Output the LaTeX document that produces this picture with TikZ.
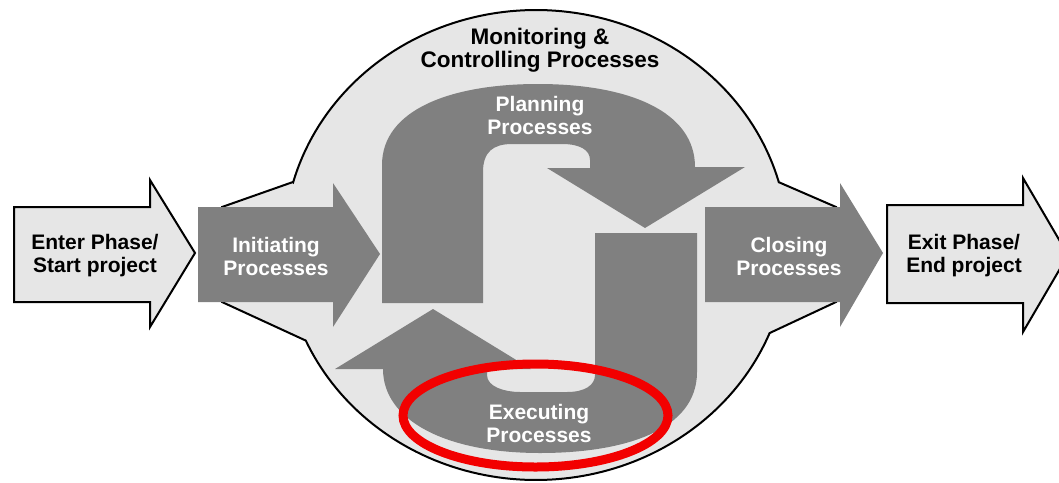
\documentclass[tikz,border=0pt]{standalone}
\usepackage{fontspec}
\setmainfont{Liberation Sans}
\definecolor{lightg}{HTML}{E6E6E6}
\definecolor{darkg}{HTML}{808080}
\definecolor{redring}{HTML}{F20000}
\begin{document}
\begin{tikzpicture}[x=1pt,y=-1pt,
  lightshape/.style={fill=lightg,draw=black,line width=2pt,line join=miter},
  darkshape/.style={fill=darkg,draw=none},
  wlabel/.style={text=white,font=\bfseries\fontsize{21}{23}\selectfont,align=center,inner sep=0pt},
  blabel/.style={text=black,font=\bfseries\fontsize{21}{23}\selectfont,align=center,inner sep=0pt}]
\useasboundingbox (0,0) rectangle (1059,482);
\clip (0,0) rectangle (1059,482);
\fill[white] (0,0) rectangle (1059,482);
% monitoring & controlling blob
\path[lightshape] (222,207) -- (293,182)
  -- plot[domain=164.5:15.5,samples=90] ({536+252*cos(\x)},{245-235*sin(\x)})
  -- (836,207) -- (836,302)
  -- plot[domain=-22:-156,samples=90] ({536+252*cos(\x)},{245-235*sin(\x)})
  -- (222,302) -- cycle;
% planning arrow
\path[darkshape] (382,303) -- (382,165) .. controls (382,110) and (450,84) .. (538,84)
  .. controls (630,84) and (695,112) .. (695,167) -- (745,167) -- (645,228) -- (547,168)
  -- (590,168) -- (590,160) .. controls (590,150) and (580,144) .. (562,144) -- (512,144)
  .. controls (493,144) and (483,152) .. (483,172) -- (483,303) -- cycle;
% executing arrow
\path[darkshape] (697,233) -- (697,372) .. controls (697,430) and (625,453) .. (540,453)
  .. controls (445,453) and (383,420) .. (383,369) -- (487,369) -- (487,375)
  .. controls (487,387) and (505,392) .. (520,392) -- (567,392)
  .. controls (585,392) and (595,385) .. (595,375) -- (595,233) -- cycle;
\path[darkshape] (335,369) -- (433,309) -- (531,369) -- cycle;
% side arrows
\path[lightshape] (14,207) -- (150,207) -- (150,180) -- (195,253) -- (150,327) -- (150,302) -- (14,302) -- cycle;
\path[darkshape] (198,207) -- (333,207) -- (333,183) -- (380,254) -- (333,327) -- (333,302) -- (198,302) -- cycle;
\path[darkshape] (705,207) -- (840,207) -- (840,183) -- (883,253) -- (840,327) -- (840,302) -- (705,302) -- cycle;
\path[lightshape] (887,205) -- (1023,205) -- (1023,178) -- (1068,255) -- (1023,332) -- (1023,303) -- (887,303) -- cycle;
% red ring
\draw[redring,line width=9pt] (535.5,415.5) ellipse [x radius=132.5, y radius=51.5];
% labels
\node[blabel] (enter) at (95,256) {Enter Phase/\\Start project};
\node[wlabel] (init) at (276,256) {Initiating\\Processes};
\node[blabel,font=\bfseries\fontsize{22.5}{23}\selectfont] (mon) at (540,50) {Monitoring \&\\Controlling Processes};
\node[wlabel] (plan) at (540,115) {Planning\\Processes};
\node[wlabel] (exec) at (539,423) {Executing\\Processes};
\node[wlabel] (close) at (789,256) {Closing\\Processes};
\node[blabel] (exit) at (964,256) {Exit Phase/\\End project};
\end{tikzpicture}
\end{document}
